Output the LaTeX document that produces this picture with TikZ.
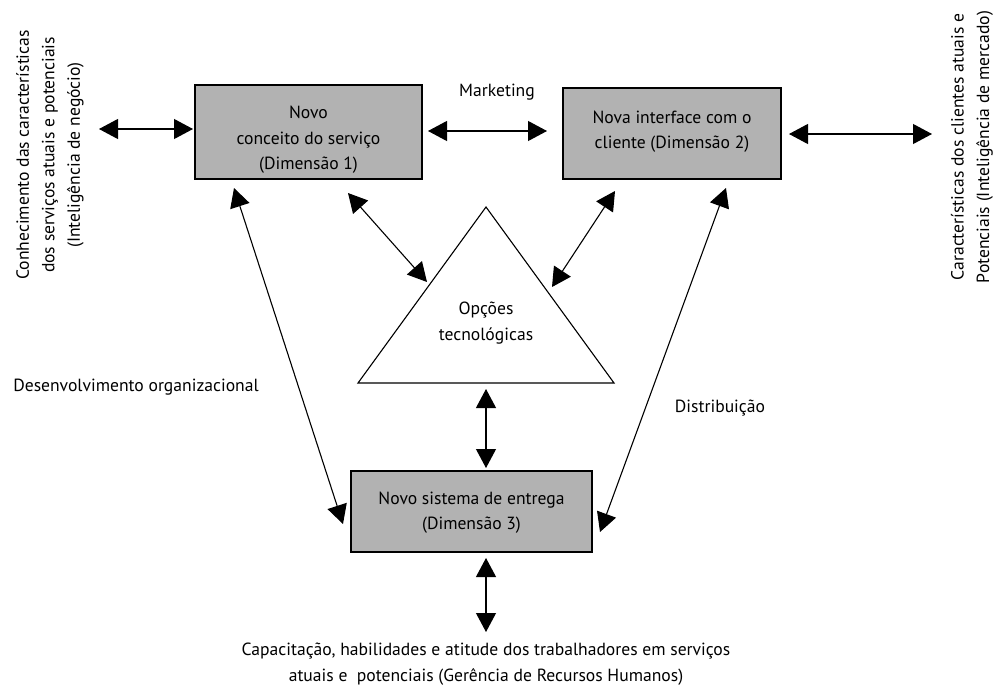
\documentclass[tikz,border=0pt]{standalone}
\usepackage{fontspec}
\setmainfont{PT Sans}
\usetikzlibrary{arrows.meta}
\begin{document}
\begin{tikzpicture}[x=1pt,y=-1pt,
  every node/.style={font=\fontsize{17.6}{25.5}\selectfont, inner sep=0pt},
  dimbox/.style={draw, line width=1.2pt, fill=black!30},
  arr/.style={line width=1.1pt, {Triangle[length=19pt,width=20pt]}-{Triangle[length=19pt,width=20pt]}, shorten <=0pt, shorten >=0pt},
  lbl/.style={align=center}]
\useasboundingbox (0,0) rectangle (993,686);
% boxes
\node[dimbox, minimum width=227pt, minimum height=94pt] (b1) at (308.5,132) {};
\node[lbl] at (b1.center) [yshift=-8pt] {Novo\\conceito do serviço\\(Dimensão 1)};
\node[dimbox, minimum width=218pt, minimum height=91pt] (b2) at (672,133.5) {};
\node[lbl] at (b2.center) [yshift=2pt] {Nova interface com o\\cliente (Dimensão 2)};
\node[dimbox, minimum width=241pt, minimum height=81pt] (b3) at (471.5,511.5) {};
\node[lbl] at (b3.center) [yshift=-1pt] {Novo sistema de entrega\\(Dimensão 3)};
% triangle
\coordinate (tA) at (486,207);
\coordinate (tL) at (358,383);
\coordinate (tR) at (614,383);
\draw[line width=1.1pt, line join=miter] (tA) -- (tL) -- (tR) -- cycle;
\node[lbl] (tri) at (486,323) {Opções\\tecnológicas};
% text labels
\node[lbl, rotate=90] (leftt) at (50,155) {Conhecimento das características\\dos serviços atuais e potenciais\\(Inteligência de negócio)};
\node[lbl, rotate=90] (rightt) at (972,147) {Características dos clientes atuais e\\Potenciais (Inteligência de mercado)};
\node (mk) at (497,92) {Marketing};
\node (dev) at (136,387) {Desenvolvimento organizacional};
\node (dist) at (720,408) {Distribuição};
\node[lbl] (bot) at (486,664) {Capacitação, habilidades e atitude dos trabalhadores em serviços\\atuais e \ potenciais (Gerência de Recursos Humanos)};
% connector end points
\coordinate (l1) at (99,129);
\coordinate (l2) at (193,129);
\coordinate (m1) at (428,131);
\coordinate (m2) at (547,131);
\coordinate (r1) at (789,134);
\coordinate (r2) at (932,134);
\coordinate (d1a) at (348,193);
\coordinate (d1b) at (427,282);
\coordinate (d2a) at (615,191);
\coordinate (d2b) at (552,287);
\coordinate (va) at (486,389);
\coordinate (vb) at (486,468);
\coordinate (wa) at (234,188);
\coordinate (wb) at (343,524);
\coordinate (za) at (726,188);
\coordinate (zb) at (600,532);
\coordinate (ba) at (486,558);
\coordinate (bb) at (486,632);
\draw[arr] (l1) -- (l2);
\draw[arr] (m1) -- (m2);
\draw[arr] (r1) -- (r2);
\draw[arr] (d1a) -- (d1b);
\draw[arr] (d2a) -- (d2b);
\draw[arr] (va) -- (vb);
\draw[arr] (wa) -- (wb);
\draw[arr] (za) -- (zb);
\draw[arr] (ba) -- (bb);
\end{tikzpicture}
\end{document}
